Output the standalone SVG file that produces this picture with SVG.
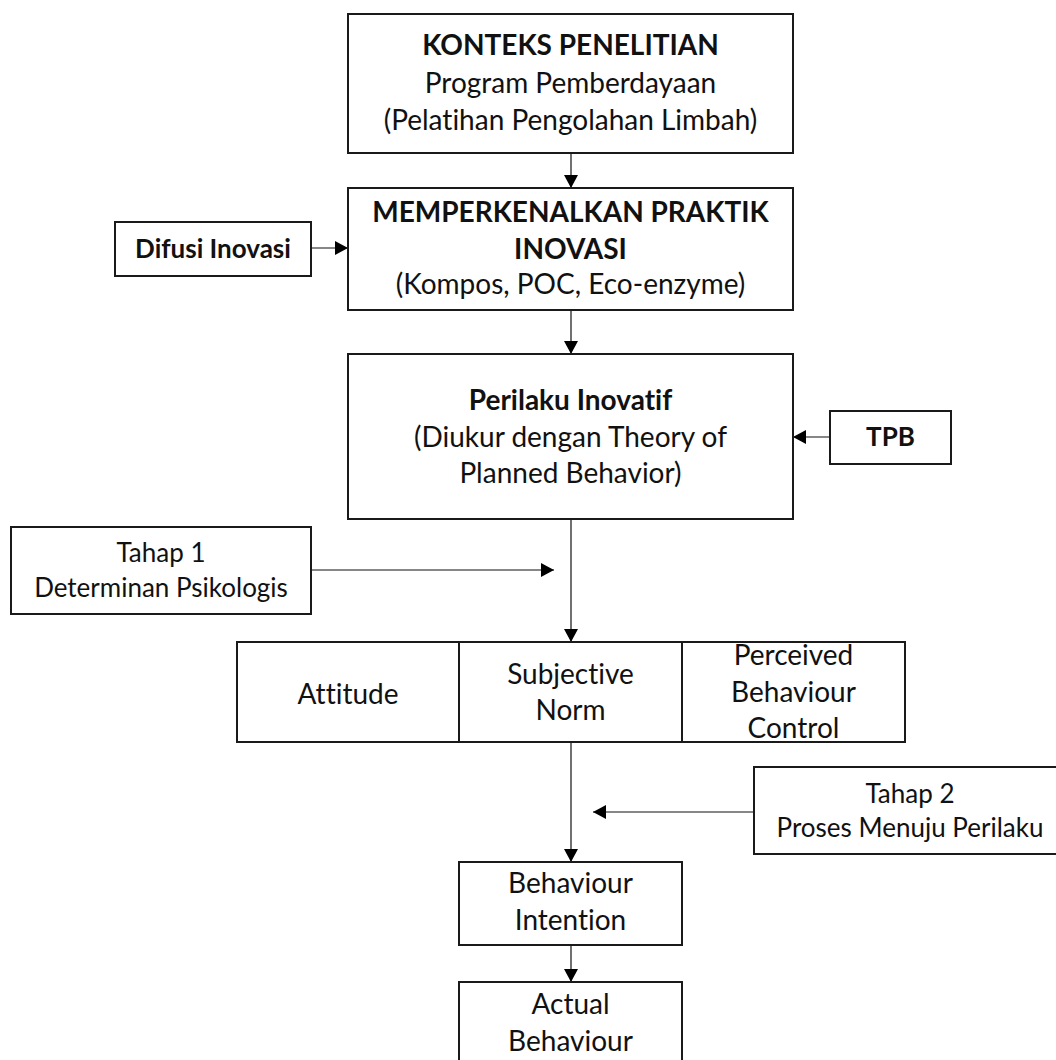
<svg xmlns="http://www.w3.org/2000/svg" width="1056" height="1060" viewBox="0 0 1056 1060">
<defs>
<marker id="ah" markerWidth="14" markerHeight="14" refX="13" refY="7" orient="auto" markerUnits="userSpaceOnUse"><path d="M0,0 L13,7 L0,14 z" fill="#000"/></marker>
<style>
.box{fill:#fff;stroke:#1a1a1a;stroke-width:2}
.t{font-family:Lato,"Open Sans","Liberation Sans",sans-serif;font-size:28px;fill:#111;text-anchor:middle;font-variant-ligatures:none;font-feature-settings:"liga" 0}
.b{font-weight:bold}
.s{font-size:26px}
.c{fill:none;stroke:#111;stroke-width:1.2}
</style>
</defs>
<rect width="1056" height="1060" fill="#fff"/>
<g id="connectors">
<line class="c" x1="571" y1="153" x2="571" y2="188" marker-end="url(#ah)"/>
<line class="c" x1="311" y1="248" x2="348" y2="248" marker-end="url(#ah)"/>
<line class="c" x1="571" y1="310" x2="571" y2="354" marker-end="url(#ah)"/>
<line class="c" x1="830" y1="437" x2="793" y2="437" marker-end="url(#ah)"/>
<line class="c" x1="571" y1="519" x2="571" y2="642" marker-end="url(#ah)"/>
<line class="c" x1="311" y1="570" x2="554" y2="570" marker-end="url(#ah)"/>
<line class="c" x1="571" y1="742" x2="571" y2="862" marker-end="url(#ah)"/>
<line class="c" x1="754" y1="812" x2="593" y2="812" marker-end="url(#ah)"/>
<line class="c" x1="571" y1="945" x2="571" y2="982" marker-end="url(#ah)"/>
</g>
<g id="konteks">
<rect class="box" x="348" y="14" width="445" height="139"/>
<text class="t b" x="570.5" y="55">KONTEKS PENELITIAN</text>
<text class="t" x="570.5" y="93">Program Pemberdayaan</text>
<text class="t" x="570.5" y="130">(Pelatihan Pengolahan Limbah)</text>
</g>
<g id="praktik">
<rect class="box" x="348" y="188" width="445" height="122"/>
<text class="t b" x="570.5" y="222">MEMPERKENALKAN PRAKTIK</text>
<text class="t b" x="570.5" y="259">INOVASI</text>
<text class="t" x="570.5" y="294">(Kompos, POC, Eco-enzyme)</text>
</g>
<g id="difusi">
<rect class="box" x="115" y="222" width="196" height="54"/>
<text class="t b s" x="213" y="258">Difusi Inovasi</text>
</g>
<g id="perilaku">
<rect class="box" x="348" y="354" width="445" height="165"/>
<text class="t b" x="570.5" y="410">Perilaku Inovatif</text>
<text class="t" x="570.5" y="447">(Diukur dengan Theory of</text>
<text class="t" x="570.5" y="483">Planned Behavior)</text>
</g>
<g id="tpb">
<rect class="box" x="830" y="411" width="121" height="53"/>
<text class="t b s" x="890.5" y="446">TPB</text>
</g>
<g id="tahap1">
<rect class="box" x="11" y="527" width="300" height="87"/>
<text class="t s" x="161" y="562">Tahap 1</text>
<text class="t s" x="161" y="597">Determinan Psikologis</text>
</g>
<g id="attitude">
<rect class="box" x="237" y="642" width="222" height="100"/>
<text class="t" x="348" y="704">Attitude</text>
</g>
<g id="subjective">
<rect class="box" x="459" y="642" width="223" height="100"/>
<text class="t" x="570.5" y="684">Subjective</text>
<text class="t" x="570.5" y="720">Norm</text>
</g>
<g id="perceived">
<text class="t" x="793.5" y="665">Perceived</text>
<text class="t" x="793.5" y="702">Behaviour</text>
<text class="t" x="793.5" y="738">Control</text>
<rect x="682" y="642" width="223" height="100" fill="none" stroke="#1a1a1a" stroke-width="2"/>
</g>
<g id="tahap2">
<rect class="box" x="754" y="767" width="320" height="87"/>
<text class="t s" x="910" y="803">Tahap 2</text>
<text class="t s" x="910" y="837">Proses Menuju Perilaku</text>
</g>
<g id="intention">
<rect class="box" x="459" y="862" width="223" height="83"/>
<text class="t" x="570.5" y="893">Behaviour</text>
<text class="t" x="570.5" y="930">Intention</text>
</g>
<g id="actual">
<rect class="box" x="459" y="982" width="223" height="100"/>
<text class="t" x="570.5" y="1014">Actual</text>
<text class="t" x="570.5" y="1051">Behaviour</text>
</g>
</svg>
